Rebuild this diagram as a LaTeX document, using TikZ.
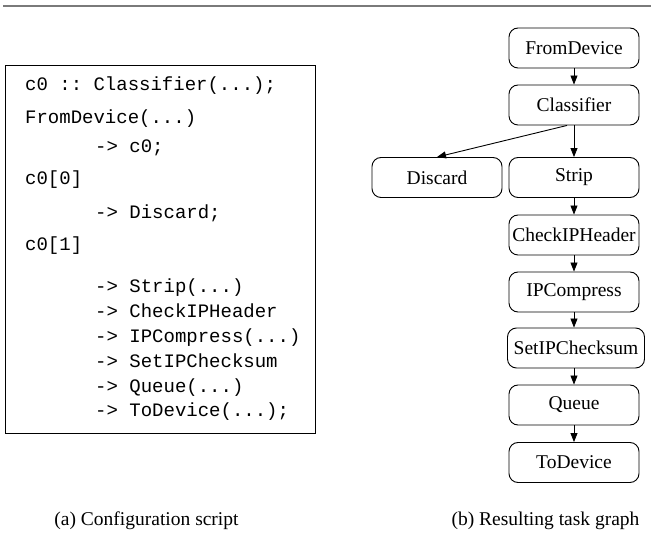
\documentclass[tikz,border=0pt]{standalone}
\usepackage{fontspec}
\setmainfont{Liberation Serif}
\setmonofont{Liberation Mono}
\usetikzlibrary{arrows.meta}
\begin{document}
\begin{tikzpicture}[x=1pt,y=-1pt,
  task/.style={draw, rounded corners=9pt, minimum width=130pt, minimum height=40pt,
    inner xsep=2pt, line width=0.9pt, font=\fontsize{19.5}{22}\selectfont},
  flow/.style={-{Triangle[length=9pt,width=7pt]}, line width=0.9pt},
  code/.style={anchor=base west, inner sep=0pt, font=\fontsize{19}{22}\selectfont\ttfamily},
  caption/.style={font=\fontsize{19.5}{22}\selectfont}]
\useasboundingbox (0,0) rectangle (651,537);

% rule across the top
\draw[line width=2pt, color=black!52] (3,6) -- (651,6);

% (a) the configuration script
\draw[line width=0.9pt] (5,65) rectangle (315,433);
\node[code] (l1)  at (25,91)  {c0 :: Classifier(...);};
\node[code] (l2)  at (25,124) {FromDevice(...)};
\node[code] (l3)  at (95,153) {-> c0;};
\node[code] (l4)  at (25,185) {c0[0]};
\node[code] (l5)  at (95,219) {-> Discard;};
\node[code] (l6)  at (25,251) {c0[1]};
\node[code] (l7)  at (95,293) {-> Strip(...)};
\node[code] (l8)  at (95,318) {-> CheckIPHeader};
\node[code] (l9)  at (95,343) {-> IPCompress(...)};
\node[code] (l10) at (95,368) {-> SetIPChecksum};
\node[code] (l11) at (95,392) {-> Queue(...)};
\node[code] (l12) at (95,417) {-> ToDevice(...);};
\node[caption] (capa) at (146.5,521) {(a) Configuration script};

% (b) the resulting task graph
\node[task] (from)  at (574,48)    {FromDevice};
\node[task] (cls)   at (574,105)   {Classifier};
\node[task] (dis)   at (437,177.5) {Discard};
\node[task] (strip) at (574,177.5) {Strip};
\node[task] (chk)   at (574,235)   {CheckIPHeader};
\node[task] (ipc)   at (574,292)   {IPCompress};
\node[task, minimum width=137pt] (sum) at (576,348) {SetIPChecksum};
\node[task] (que)   at (574,405)   {Queue};
\node[task] (todev) at (574,462.5) {ToDevice};
\node[caption] (capb) at (545.5,521) {(b) Resulting task graph};

\draw[flow] (from) -- (cls);
\draw[flow] ([xshift=-7pt]cls.south) -- (dis.north);
\draw[flow] (cls) -- (strip);
\draw[flow] (strip) -- (chk);
\draw[flow] (chk) -- (ipc);
\draw[flow] (ipc.south) -- (ipc.south |- sum.north);
\draw[flow] (que.north |- sum.south) -- (que.north);
\draw[flow] (que) -- (todev);
\end{tikzpicture}
\end{document}
